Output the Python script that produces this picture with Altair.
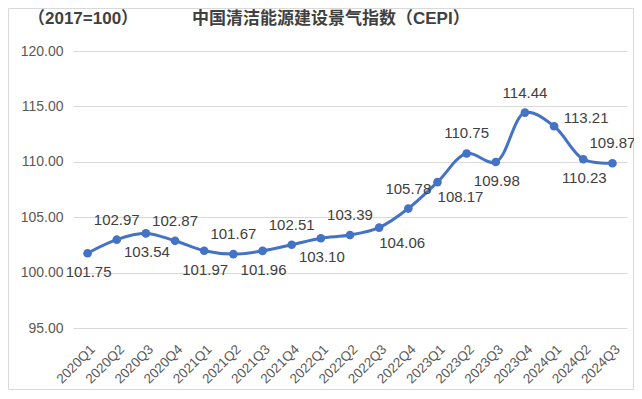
import altair as alt
import pandas as pd

quarters = ["2020Q1", "2020Q2", "2020Q3", "2020Q4",
            "2021Q1", "2021Q2", "2021Q3", "2021Q4",
            "2022Q1", "2022Q2", "2022Q3", "2022Q4",
            "2023Q1", "2023Q2", "2023Q3", "2023Q4",
            "2024Q1", "2024Q2", "2024Q3"]
values = [101.75, 102.97, 103.54, 102.87,
          101.97, 101.67, 101.96, 102.51,
          103.10, 103.39, 104.06, 105.78,
          108.17, 110.75, 109.98, 114.44,
          113.21, 110.23, 109.87]
label_pos = ["below", "above", "below", "above",
             "below", "above", "below", "above",
             "below", "above", "below-right", "above",
             "below-right", "above", "below", "above",
             "above-right", "below", "above"]
y_ticks = [95, 100, 105, 110, 115, 120]
base_title = "（2017=100）"
main_title = "中国清洁能源建设景气指数（CEPI）"

df = pd.DataFrame({"quarter": quarters, "value": values, "pos": label_pos})

W, H = 554, 277
BLUE = "#4472C4"
FONT = "Liberation Sans"
TFONT = "Liberation Sans, Noto Sans CJK SC"

x = alt.X("quarter:N", sort=quarters,
          scale=alt.Scale(type="point", padding=0.5),
          axis=alt.Axis(title=None, labelAngle=-45, labelFontSize=13.5,
                        labelColor="#595959", labelFont=FONT,
                        ticks=False, domain=False, grid=False,
                        labelPadding=14))
y = alt.Y("value:Q",
          scale=alt.Scale(domain=[95, 120], nice=False, zero=False),
          axis=alt.Axis(title=None, values=y_ticks, format=".2f",
                        labelFontSize=14, labelColor="#595959",
                        labelFont=FONT, ticks=False, domain=False,
                        labelPadding=10, gridColor="#d9d9d9",
                        gridWidth=1))

base = alt.Chart(df).encode(x=x, y=y)

line = base.mark_line(color=BLUE, strokeWidth=3, interpolate="catmull-rom")
pts = base.mark_circle(color=BLUE, size=75, opacity=1)

def labels(pos, dx, dy):
    return base.transform_filter(alt.datum.pos == pos).mark_text(
        dx=dx, dy=dy, fontSize=15, font=FONT, color="#404040",
        baseline="middle", align="center"
    ).encode(text=alt.Text("value:Q", format=".2f"))

lab_above = labels("above", 0, -20)
lab_below = labels("below", 1, 19)
lab_br = labels("below-right", 23, 15)
lab_ar = labels("above-right", 32, -8)

one = pd.DataFrame({"k": [0]})
t1 = alt.Chart(one).mark_text(
    text=base_title, fontSize=17, fontWeight="bold",
    font=TFONT, color="#404040",
    align="left", baseline="middle"
).encode(x=alt.value(-45), y=alt.value(-32))
t2 = alt.Chart(one).mark_text(
    text=main_title, fontSize=17, fontWeight="bold",
    font=TFONT, color="#404040",
    align="left", baseline="middle"
).encode(x=alt.value(119), y=alt.value(-32))

border = alt.Chart(one).mark_rect(
    fillOpacity=0, stroke="#d9d9d9", strokeWidth=1
).encode(x=alt.value(-64.5), x2=alt.value(560.5),
         y=alt.value(-42.5), y2=alt.value(338.5))

chart = alt.layer(
    border, line, pts, lab_above, lab_below, lab_br, lab_ar, t1, t2
).properties(
    width=W, height=H,
    autosize=alt.AutoSizeParams(type="none"),
    padding={"left": 65, "top": 43, "right": 7, "bottom": 62},
    background="white"
).configure_view(stroke=None)

chart.save("out.html", embed_options={"renderer": "svg", "actions": False})
